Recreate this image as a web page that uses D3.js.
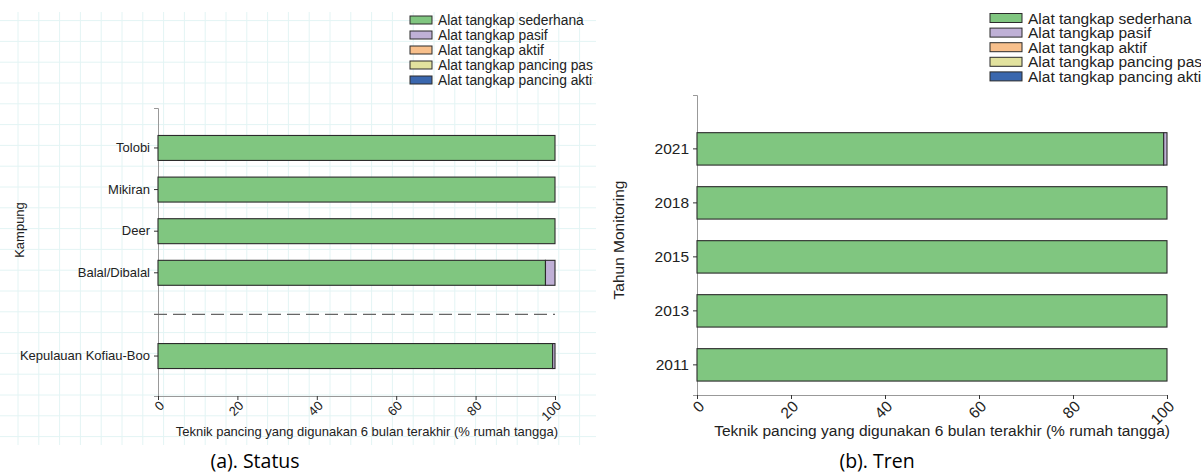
<!DOCTYPE html>
<html>
<head>
<meta charset="utf-8">
<script src="https://cdn.jsdelivr.net/npm/d3@7"></script>
<style>
  body { margin: 0; background: #fff; }
  svg text { font-family: "Liberation Sans", Arial, sans-serif; fill: #222; }
  svg text.caption { font-family: "Open Sans", "Noto Sans", sans-serif; fill: #000; }
</style>
</head>
<body>
<div class="container"></div>
<script>
// data
const seriesNames = ["Alat tangkap sederhana", "Alat tangkap pasif", "Alat tangkap aktif",
                     "Alat tangkap pancing pasif", "Alat tangkap pancing aktif"];
const seriesColors = ["#80c680", "#bfb0d6", "#f8c08c", "#e2e29e", "#3a67ae"];

const kampung = ["Tolobi", "Mikiran", "Deer", "Balal/Dibalal", "", "Kepulauan Kofiau-Boo"];
const statusSederhana = [100, 100, 100, 97.6, 0, 99.4];
const statusPasif     = [0, 0, 0, 2.4, 0, 0.6];
const statusAktif     = [0, 0, 0, 0, 0, 0];
const statusPancingPasif = [0, 0, 0, 0, 0, 0];
const statusPancingAktif = [0, 0, 0, 0, 0, 0];

const tahun = ["2021", "2018", "2015", "2013", "2011"];
const trenSederhana = [99.3, 100, 100, 100, 100];
const trenPasif     = [0.7, 0, 0, 0, 0];
const trenAktif     = [0, 0, 0, 0, 0];
const trenPancingPasif = [0, 0, 0, 0, 0];
const trenPancingAktif = [0, 0, 0, 0, 0];

const xTicks = [0, 20, 40, 60, 80, 100];

const W = 1201, H = 473;

const svg = d3.select(".container").append("svg")
    .attr("width", W)
    .attr("height", H);

// grid paper behind the left panel
const grid = svg.append("g").attr("class", "grid");
const gridStep = 20.8;
d3.range(18, 596, gridStep).forEach(x => {
  grid.append("line").attr("x1", x).attr("x2", x).attr("y1", 12).attr("y2", 445)
      .attr("stroke", "#e3f4f4").attr("stroke-width", 1);
});
d3.range(20.6, 446, gridStep).forEach(y => {
  grid.append("line").attr("x1", 0).attr("x2", 596).attr("y1", y).attr("y2", y)
      .attr("stroke", "#e3f4f4").attr("stroke-width", 1);
});

function rowsFrom(cats, cols) {
  return cats.map((c, i) => {
    const row = { cat: c };
    seriesNames.forEach((s, j) => { row[s] = cols[j][i]; });
    return row;
  });
}

function drawPanel(opt) {
  const g = svg.append("g").attr("clip-path", opt.clip ? `url(#${opt.clip})` : null);

  const x = d3.scaleLinear().domain([0, 100]).range([opt.x0, opt.x1]);
  const y = d3.scaleBand()
      .domain(opt.cats)
      .range([opt.yTop, opt.yBottom])
      .paddingInner(0.4)
      .paddingOuter(opt.paddingOuter)
      .align(opt.align);

  const stacked = d3.stack().keys(seriesNames)(opt.rows);
  const color = d3.scaleOrdinal().domain(seriesNames).range(seriesColors);

  // axes
  const yAxis = g.append("g")
      .attr("transform", `translate(${opt.x0},0)`)
      .call(d3.axisLeft(y).tickSizeOuter(0).tickSize(4).tickPadding(4)
            .tickValues(opt.cats.filter(c => c !== "")));
  yAxis.select(".domain").attr("stroke", "#999");
  yAxis.selectAll(".tick line").attr("stroke", "#333");
  yAxis.selectAll("text").style("font-size", opt.fs + "px");

  const xAxis = g.append("g")
      .attr("transform", `translate(0,${opt.yBottom})`)
      .call(d3.axisBottom(x).tickValues(xTicks).tickSizeOuter(0).tickSize(4));
  xAxis.select(".domain").attr("stroke", "#999");
  xAxis.selectAll(".tick line").attr("stroke", "#333");
  xAxis.selectAll("text")
      .style("font-size", opt.fs + "px")
      .attr("text-anchor", "end")
      .attr("y", 0).attr("dy", 0)
      .attr("transform", `translate(${opt.fs * 0.5},${opt.fs * 0.8}) rotate(-45)`);

  // bars
  g.append("g").selectAll("g")
    .data(stacked)
    .enter().append("g")
      .attr("fill", d => color(d.key))
    .selectAll("rect")
    .data(d => d.filter(p => p[1] - p[0] > 0))
    .enter().append("rect")
      .attr("x", p => x(p[0]))
      .attr("y", p => y(p.data.cat))
      .attr("width", p => x(p[1]) - x(p[0]))
      .attr("height", y.bandwidth())
      .attr("stroke", "#2b2b2b")
      .attr("stroke-width", 1.1);

  if (opt.dashAfter) {
    const yd = y("") + y.bandwidth() / 2;
    g.append("line")
      .attr("x1", opt.x0 - 4).attr("x2", x(100))
      .attr("y1", yd).attr("y2", yd)
      .attr("stroke", "#666").attr("stroke-width", 1.3)
      .attr("stroke-dasharray", "13,6");
  }

  // axis titles
  g.append("text")
    .attr("x", opt.x1 + 3).attr("y", opt.xTitleY)
    .attr("text-anchor", "end")
    .style("font-size", opt.fs + "px")
    .text("Teknik pancing yang digunakan 6 bulan terakhir (% rumah tangga)");

  g.append("text")
    .attr("transform", `translate(${opt.yTitleX},${opt.yTitleY}) rotate(-90)`)
    .attr("text-anchor", "middle")
    .style("font-size", opt.fs + "px")
    .text(opt.yTitle);

  // legend (cut at the panel edge, as in the source figure)
  const leg = g.append("g").attr("transform", `translate(${opt.legX},${opt.legY})`);
  const li = leg.selectAll("g").data(seriesNames).enter().append("g")
      .attr("transform", (d, i) => `translate(0,${i * opt.legStep})`);
  li.append("rect")
    .attr("width", opt.swW).attr("height", opt.swH)
    .attr("y", -opt.swH / 2)
    .attr("fill", d => color(d))
    .attr("stroke", "#2b2b2b").attr("stroke-width", 1);
  li.append("text")
    .attr("x", opt.swW + 6).attr("dy", "0.36em")
    .style("font-size", opt.legFs + "px")
    .text(d => d);

  svg.append("text")
    .attr("class", "caption")
    .attr("x", opt.capX).attr("y", 468)
    .attr("text-anchor", "middle")
    .style("font-size", "19.5px")
    .text(opt.caption);
}

svg.append("defs").append("clipPath").attr("id", "clipA")
  .append("rect").attr("x", 0).attr("y", 0).attr("width", 593).attr("height", H);

drawPanel({
  cats: kampung,
  rows: rowsFrom(kampung, [statusSederhana, statusPasif, statusAktif, statusPancingPasif, statusPancingAktif]),
  x0: 158, x1: 555, yTop: 108, yBottom: 396,
  paddingOuter: 0.66, align: 0.5,
  fs: 13, legFs: 13.8, xTitleY: 436, yTitle: "Kampung", yTitleX: 24, yTitleY: 230,
  legX: 410, legY: 20, legStep: 15, swW: 22, swH: 8,
  dashAfter: true, clip: "clipA",
  caption: "(a). Status", capX: 255
});

drawPanel({
  cats: tahun,
  rows: rowsFrom(tahun, [trenSederhana, trenPasif, trenAktif, trenPancingPasif, trenPancingAktif]),
  x0: 697, x1: 1167, yTop: 95, yBottom: 395,
  paddingOuter: 0.478, align: 0.73,
  fs: 15.5, legFs: 15.5, xTitleY: 436, yTitle: "Tahun Monitoring", yTitleX: 624, yTitleY: 240,
  legX: 990, legY: 18, legStep: 14.6, swW: 32, swH: 9,
  dashAfter: false, clip: null,
  caption: "(b). Tren", capX: 877
});
</script>
</body>
</html>
